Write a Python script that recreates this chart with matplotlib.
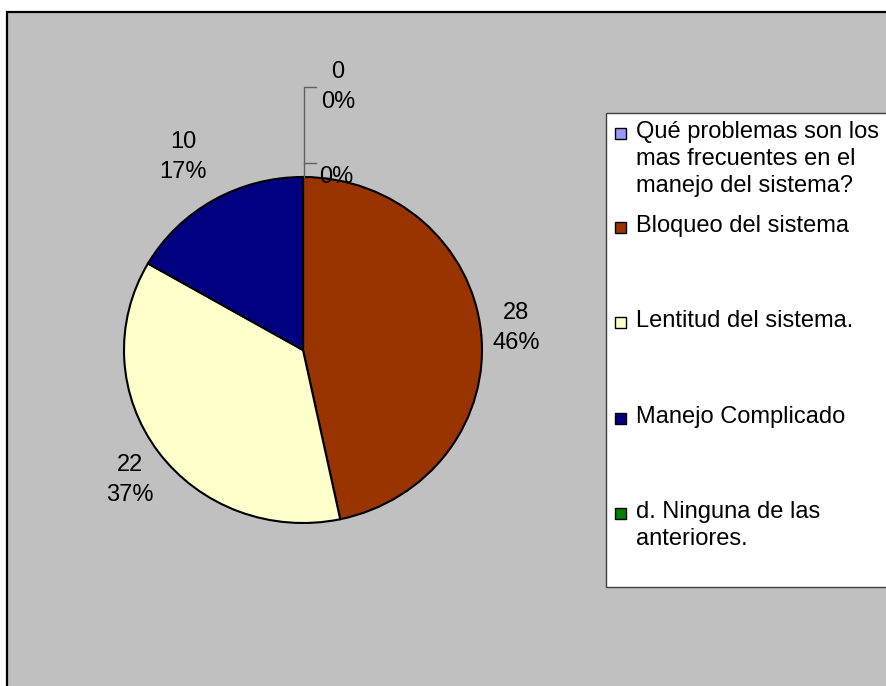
import matplotlib
matplotlib.use("Agg")
import matplotlib.pyplot as plt
from matplotlib.patches import Rectangle

plt.rcParams['font.family'] = ['Liberation Sans', 'DejaVu Sans']

# data
categories = ['Qué problemas son los\nmas frecuentes en el\nmanejo del sistema?',
              'Bloqueo del sistema',
              'Lentitud del sistema.',
              'Manejo Complicado',
              'd. Ninguna de las\nanteriores.']
values = [0, 28, 22, 10, 0]
pct_labels = ['0%', '46%', '37%', '17%', '0%']
colors = ['#9999FF', '#993300', '#FFFFCC', '#000080', '#008000']

W, H = 886, 686
fig = plt.figure(figsize=(W / 100, H / 100), dpi=100)
fig.patch.set_facecolor('white')

# background layer (pixel coords)
bg = fig.add_axes([0, 0, 1, 1], zorder=0)
bg.set_xlim(0, W)
bg.set_ylim(H, 0)
bg.axis('off')
bg.add_patch(Rectangle((7, 12), W + 20, H + 20, facecolor='#C0C0C0',
                       edgecolor='black', linewidth=1.6))

# pie (slightly wider than tall, like the original)
cx, cy, rx, ry = 303, 350, 179, 173
ax = fig.add_axes([(cx - rx) / W, 1 - (cy + ry) / H, 2 * rx / W, 2 * ry / H], zorder=1)
ax.pie(values, colors=colors, startangle=90, counterclock=False,
       wedgeprops=dict(edgecolor='black', linewidth=1.5))
ax.set_aspect('auto')
ax.set_xlim(-1, 1)
ax.set_ylim(-1, 1)
ax.axis('off')

# overlay for labels and legend
ov = fig.add_axes([0, 0, 1, 1], zorder=2)
ov.set_xlim(0, W)
ov.set_ylim(H, 0)
ov.axis('off')
ov.patch.set_alpha(0)

fs = 17
# leader lines for the zero slices
ov.plot([304, 304, 316], [177, 87, 87], color='#606060', lw=1)
ov.plot([304, 316], [163, 163], color='#606060', lw=1)

label_pos = [(338, 87), (516, 328), (130, 480), (183, 157), (336, 177)]
for i, (v, p) in enumerate(zip(values, pct_labels)):
    txt = p if i == len(values) - 1 else f"{v}\n{p}"
    ov.text(label_pos[i][0], label_pos[i][1], txt, ha='center', va='center',
            fontsize=fs, linespacing=1.45, color='black')

# legend box
ov.add_patch(Rectangle((606, 113), 300, 474, facecolor='white',
                       edgecolor='#404040', linewidth=1))
legend_y = [133, 227, 322, 418, 513]
for name, col, y in zip(categories, colors, legend_y):
    ov.add_patch(Rectangle((615, y - 5.5), 11, 11, facecolor=col,
                           edgecolor='black', linewidth=1))
    ov.text(636, y - 12, name, ha='left', va='top', fontsize=fs,
            linespacing=1.3, color='black')

fig.savefig('out.png', dpi=100)
